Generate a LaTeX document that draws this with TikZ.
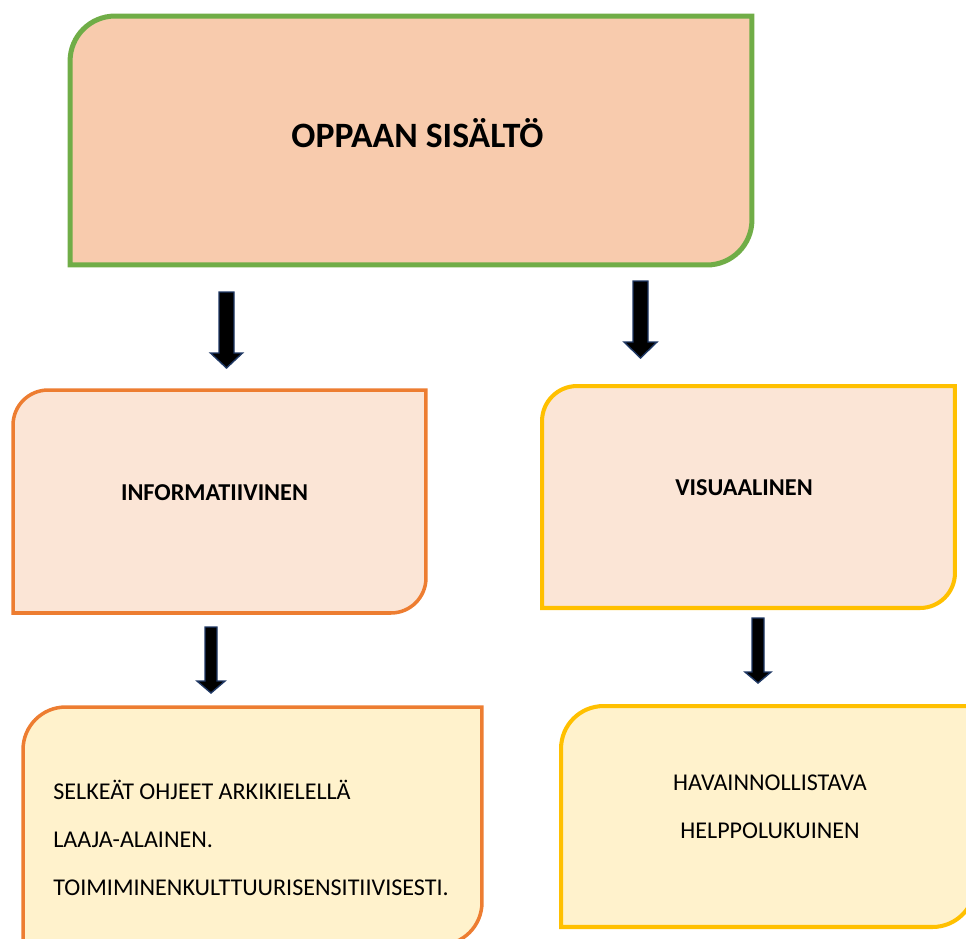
\documentclass[tikz,border=0pt]{standalone}
\usepackage{fontspec}
\setmainfont{Carlito}

\definecolor{leafgreen}{HTML}{70AD47}
\definecolor{rustorange}{HTML}{ED7D31}
\definecolor{goldyellow}{HTML}{FFC000}
\definecolor{peach}{HTML}{F8CBAD}
\definecolor{palepeach}{HTML}{FBE5D6}
\definecolor{palecream}{HTML}{FFF2CC}
\definecolor{arrowedge}{HTML}{1F3864}

\begin{document}
\begin{tikzpicture}[x=0.02cm, y=-0.02cm,
    box/.style={inner sep=0, outer sep=0},
    bigtext/.style={font=\fontsize{20.3}{24}\selectfont\bfseries},
    headtext/.style={font=\fontsize{13.8}{16}\selectfont\bfseries},
    itemtext/.style={font=\fontsize{13.7}{27.4}\selectfont, inner sep=0},
    blockarrow/.style={draw=arrowedge, fill=black, line width=0.8pt, line join=miter}]
    \useasboundingbox (0,0) rectangle (966,938);

    % boxes (empty nodes, outlines drawn below)
    \node[box, minimum width=13.64cm, minimum height=4.98cm] (guide) at (411,140.5) {};
    \node[box, minimum width=8.26cm, minimum height=4.46cm] (info) at (219.5,501.5) {};
    \node[box, minimum width=8.26cm, minimum height=4.44cm] (visual) at (748.5,497) {};
    \node[box, minimum width=9.18cm, minimum height=4.76cm] (clear) at (252.5,826) {};
    \node[box, minimum width=8.28cm, minimum height=4.42cm] (easy) at (768,816.5) {};

    % round top left and bottom right corners
    \foreach \n/\edge/\inside/\lw/\r in {guide/leafgreen/peach/2.85pt/0.9cm,
        info/rustorange/palepeach/2pt/0.7cm, visual/goldyellow/palepeach/2.3pt/0.7cm,
        clear/rustorange/palecream/2pt/0.85cm, easy/goldyellow/palecream/2.3pt/0.85cm}
        \draw[line width=\lw, draw=\edge, fill=\inside]
            ([yshift=-\r]\n.north west) arc[start angle=180, end angle=90, radius=\r]
            -- (\n.north east) -- ([yshift=\r]\n.south east)
            arc[start angle=0, end angle=-90, radius=\r] -- (\n.south west) -- cycle;

    % block arrows
    \foreach \x/\ya/\yb/\yc/\s/\h in {226.5/292/353/368/7.5/16, 640.5/281/342/358/7.5/16.5,
        211/627/681/693/6/14, 758/618/672/683/6/13}
        \draw[blockarrow] (\x-\s,\ya) -- (\x+\s,\ya) -- (\x+\s,\yb) -- (\x+\h,\yb)
            -- (\x,\yc) -- (\x-\h,\yb) -- (\x-\s,\yb) -- cycle;

    \node[bigtext] (guidetitle) at (417.5,133) {OPPAAN SISÄLTÖ};
    \node[headtext] (infotitle) at (214.5,493) {INFORMATIIVINEN};
    \node[headtext] (visualtitle) at (744,488) {VISUAALINEN};
    \node[itemtext, align=left, anchor=west] (clearitems) at (53,838)
        {SELKEÄT OHJEET ARKIKIELELLÄ\\LAAJA-ALAINEN.\\TOIMIMINENKULTTUURISENSITIIVISESTI.};
    \node[itemtext, align=center] (easyitems) at (770,807)
        {HAVAINNOLLISTAVA\\HELPPOLUKUINEN};
\end{tikzpicture}
\end{document}
